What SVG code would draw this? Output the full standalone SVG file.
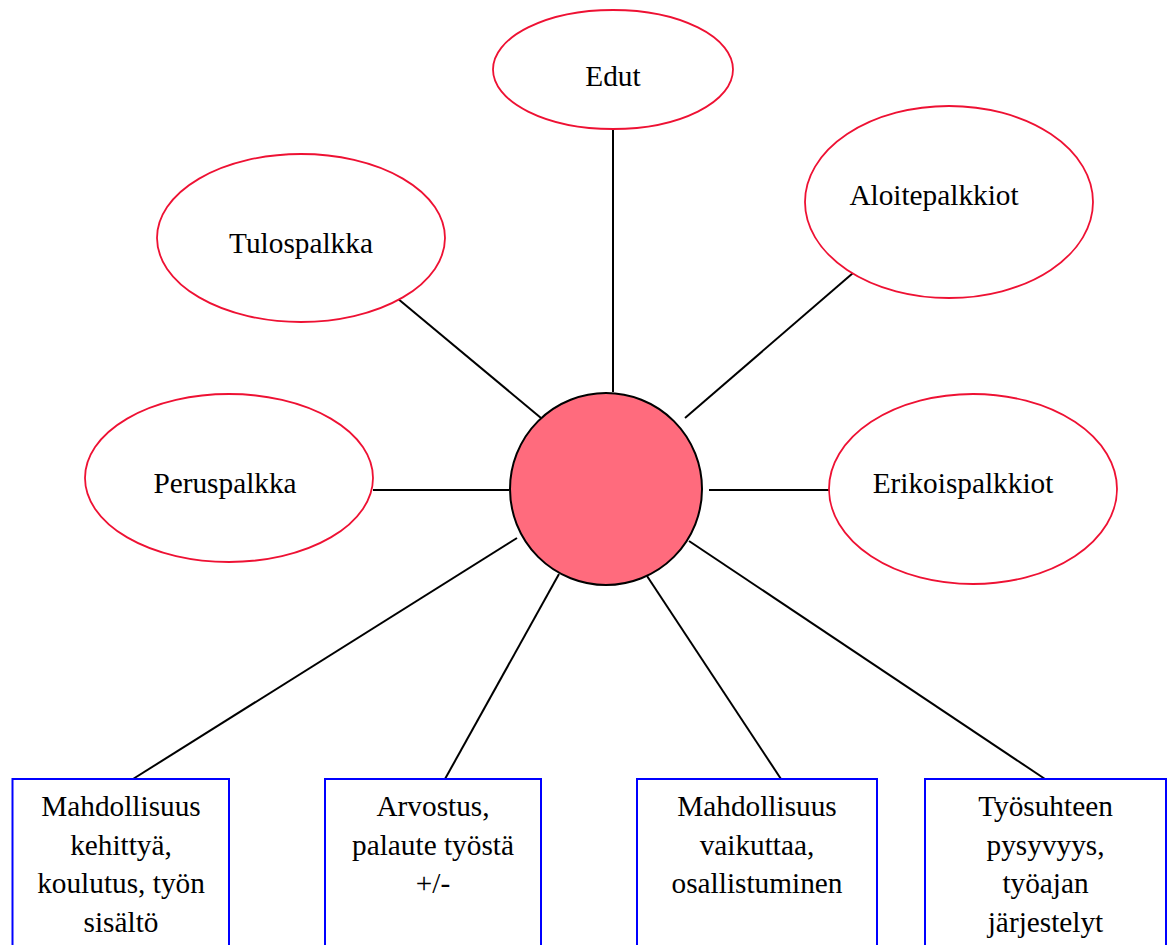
<svg xmlns="http://www.w3.org/2000/svg" width="1174" height="945" viewBox="0 0 1174 945">
<style>
.ell{fill:#ffffff;stroke:#ee1133;stroke-width:1.8}
.box{fill:#ffffff;stroke:#0000ff;stroke-width:2}
.lbl{font-family:"Liberation Serif","Times New Roman",serif;font-size:29.3px;fill:#000000;text-anchor:middle}
#connectors line{stroke:#000000;stroke-width:2}
</style>
<rect width="1174" height="945" fill="#ffffff"/>
<g id="connectors">
<line x1="613" y1="129" x2="613" y2="392"/>
<line x1="397" y1="298" x2="541" y2="418"/>
<line x1="853" y1="273" x2="685" y2="418"/>
<line x1="373" y1="490" x2="509" y2="490"/>
<line x1="709" y1="490" x2="829" y2="490"/>
<line x1="133" y1="779" x2="517" y2="538"/>
<line x1="445" y1="779" x2="559" y2="574"/>
<line x1="781" y1="779" x2="647" y2="576"/>
<line x1="1045" y1="779" x2="689" y2="541"/>
</g>
<g id="center">
<circle cx="606" cy="489" r="96" fill="#ff6b7d" stroke="#000000" stroke-width="2"/>
</g>
<g id="edut">
<ellipse class="ell" cx="613" cy="69.5" rx="120" ry="59.5"/>
<text class="lbl" x="613" y="86">Edut</text>
</g>
<g id="tulospalkka">
<ellipse class="ell" cx="301" cy="238" rx="144" ry="84"/>
<text class="lbl" x="301" y="253">Tulospalkka</text>
</g>
<g id="aloitepalkkiot">
<ellipse class="ell" cx="949" cy="202" rx="144" ry="96"/>
<text class="lbl" x="934" y="205">Aloitepalkkiot</text>
</g>
<g id="peruspalkka">
<ellipse class="ell" cx="229" cy="478" rx="144" ry="84"/>
<text class="lbl" x="225" y="493">Peruspalkka</text>
</g>
<g id="erikoispalkkiot">
<ellipse class="ell" cx="973" cy="489" rx="144" ry="95"/>
<text class="lbl" x="963" y="493">Erikoispalkkiot</text>
</g>
<g id="box1">
<rect class="box" x="12.5" y="779" width="216.5" height="180"/>
<text class="lbl" x="121" y="816">Mahdollisuus</text>
<text class="lbl" x="121" y="854.7">kehittyä,</text>
<text class="lbl" x="121" y="893.4">koulutus, työn</text>
<text class="lbl" x="121" y="932.1">sisältö</text>
</g>
<g id="box2">
<rect class="box" x="325" y="779" width="216" height="180"/>
<text class="lbl" x="433" y="816">Arvostus,</text>
<text class="lbl" x="433" y="854.7">palaute työstä</text>
<text class="lbl" x="433" y="893.4">+/-</text>
</g>
<g id="box3">
<rect class="box" x="637" y="779" width="240" height="180"/>
<text class="lbl" x="757" y="816">Mahdollisuus</text>
<text class="lbl" x="757" y="854.7">vaikuttaa,</text>
<text class="lbl" x="757" y="893.4">osallistuminen</text>
</g>
<g id="box4">
<rect class="box" x="925" y="779" width="241" height="180"/>
<text class="lbl" x="1045.5" y="816">Työsuhteen</text>
<text class="lbl" x="1045.5" y="854.7">pysyvyys,</text>
<text class="lbl" x="1045.5" y="893.4">työajan</text>
<text class="lbl" x="1045.5" y="932.1">järjestelyt</text>
</g>
</svg>
